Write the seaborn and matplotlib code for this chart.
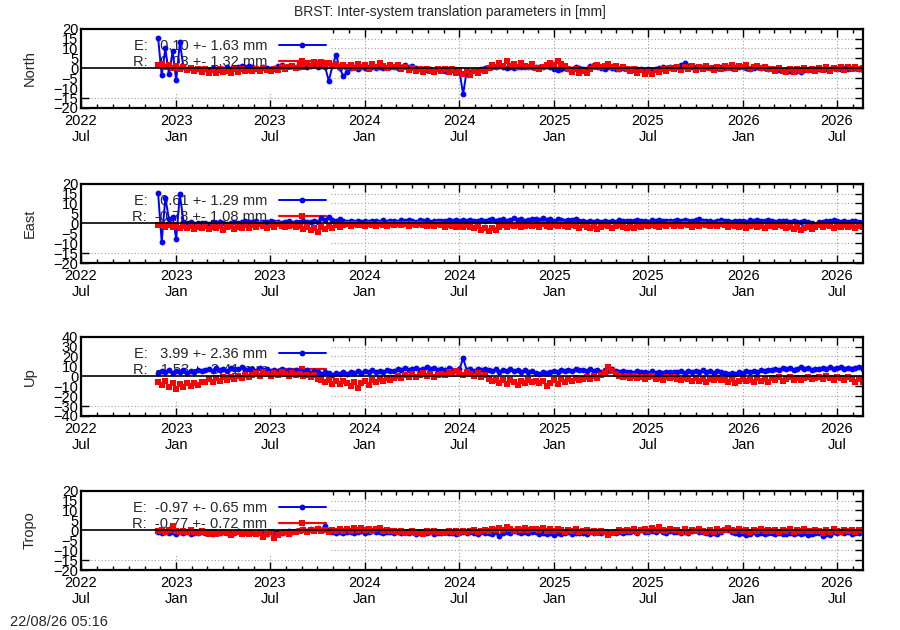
import matplotlib
matplotlib.use("Agg")
import matplotlib.pyplot as plt
import matplotlib.dates as mdates
from matplotlib.patches import Rectangle
import pandas as pd
import seaborn as sns

# weekly values (mm), first epoch 2022-11-27, last 2026-08-20
start_date = "2022-11-27"
end_date = "2026-08-20"

north_e = [
    15.5, -3.5, 10.0, -3.0, 8.5, -6.0, 13.0, 0.5, -0.5, 0.3, -0.8, -0.2, -0.6,
    -0.4, -0.8, 0.2, -0.6, -1.0, -0.3, 0.4, -0.5, 0.2, 0.8, 1.0, 0.6, 1.2,
    0.8, 0.3, -0.2, 0.5, 0.0, -0.5, 0.3, 1.2, 1.5, 0.8, 1.0, 1.4, 0.6,
    0.8, 1.2, 0.5, 1.0, 1.6, 0.9, 1.3, 0.7, -6.4, 1.0, 6.8, 0.2, -4.0,
    -2.0, 0.2, 0.6, -0.3, 0.4, 0.1, 0.5, 0.8, 0.2, 0.6, 0.3, 0.9, 0.4,
    0.5, 0.2, 0.8, 1.6, 0.6, 1.4, 0.3, -0.3, -0.5, -0.8, -0.4, -1.2, -0.6,
    -0.9, -1.3, -0.5, -1.0, -0.7, -1.5, -13.0, -1.2, -1.8, -0.8, -1.4, -0.3, 0.2,
    0.6, 0.8, 0.4, 1.0, 0.7, 0.3, 0.5, 0.2, 0.6, 0.9, 0.4, 0.8, 0.5,
    0.7, 0.9, 0.6, 1.2, 0.8, -0.4, -0.8, -0.3, 0.2, -0.5, -0.2, 0.4, 0.1,
    -0.6, -0.2, 1.2, 1.6, 0.8, 0.2, -0.3, 0.4, 0.1, -0.5, -0.2, 0.3, -0.4,
    -0.5, -0.8, -0.3, -0.6, -0.9, -0.4, -0.7, -0.2, 0.3, 0.5, 0.2, 0.6, 0.4,
    0.8, 1.5, 2.6, 1.2, 0.9, 0.6, 0.8, 0.4, 0.7, 0.3, 0.5, 0.2, 0.4,
    0.3, 0.6, 0.2, 0.5, 0.8, 0.4, 0.1, -0.2, 0.3, 0.6, 0.2, -0.1, -0.3,
    -0.6, -0.4, -0.8, -1.2, -0.9, -1.4, -1.6, -1.3, -1.8, -1.0, -0.7, -0.9, -0.5,
    -0.4, -0.2, -0.6, -0.3, 0.1, -0.5, -0.2, 0.2, -0.4, -0.1, 0.3, -0.6, -1.0,
]
north_r = [
    1.5, 2.0, 0.5, 1.8, 0.2, 1.2, -0.5, 0.8, -1.0, 0.3, -1.5, -0.2, -1.8,
    -0.5, -2.2, -0.8, -2.5, -0.3, -1.9, -1.2, -2.4, -0.6, -1.8, -0.4, -1.5, -0.9,
    -1.6, -0.3, -1.4, 0.2, -1.0, -1.6, -0.2, -0.9, 0.4, -0.5, 0.6, 1.2, 0.3,
    2.1, 0.8, 2.6, 1.2, 3.0, 1.5, 3.4, 1.9, 2.8, 1.0, 2.2, 0.6, 1.6,
    0.4, 1.8, 0.2, 2.4, 0.8, 1.5, -0.2, 2.0, 0.6, 2.6, 1.1, 0.3, 1.9,
    0.5, 1.6, -0.4, 0.8, -1.1, 0.2, -1.5, -0.3, -1.8, -0.6, -1.2, -2.0, -0.4,
    -1.4, -0.3, -1.8, -0.6, -2.2, -1.0, -2.8, -1.5, -3.2, -1.2, -2.4, -0.8, -1.6,
    0.2, 1.8, 0.9, 2.6, 1.3, 3.5, 1.1, 2.2, 0.6, 2.8, 1.4, 0.4, 2.0,
    0.3, -0.5, 0.8, 1.5, 2.8, 1.9, 3.6, 2.4, 1.0, -0.6, -1.8, -0.4, -2.2,
    -1.2, -2.6, -0.5, 0.8, 1.6, 0.4, 1.2, 2.0, 0.6, 1.4, -0.2, 0.9, -0.6,
    -1.5, -0.4, -2.2, -1.0, -2.8, -1.4, -3.0, -0.8, -1.9, -0.3, -1.2, 0.2, -0.6,
    0.4, -0.8, 0.9, -0.3, 1.2, -1.1, 0.5, -0.6, 1.0, 0.2, -0.9, 0.8, -0.2,
    1.2, 0.3, 1.8, -0.4, 1.0, 0.6, 1.6, -0.2, 0.8, 1.4, 0.1, 0.9, -0.5,
    -0.3, -1.6, 0.2, -1.2, -2.0, -0.6, -1.8, -0.4, -1.4, 0.1, -1.0, -0.2, -1.5,
    0.3, -0.8, 0.6, -1.2, 0.2, -0.5, 0.9, -0.9, 0.4, -0.3, 0.7, -0.6, 0.1,
]
east_e = [
    15.5, -9.5, 13.0, 2.0, 3.0, -7.8, 14.7, 0.8, 0.2, 0.6, -0.2, 0.4, 0.1,
    0.3, -0.2, 0.5, 0.0, 0.6, 0.2, -0.3, 0.4, 0.8, 0.3, 0.6, 1.0, 0.5,
    0.7, 1.2, 0.4, 0.9, 0.6, 1.3, 0.5, 0.8, 0.3, 0.7, 1.1, 0.4, 0.9,
    0.6, 1.0, 0.5, 0.8, 1.2, 0.7, 2.8, 1.5, 3.2, 1.8, 1.2, 2.4, 1.0,
    0.9, 1.3, 0.7, 1.1, 0.8, 1.4, 0.6, 1.0, 1.2, 0.8, 1.5, 0.9, 1.1,
    1.3, 0.8, 1.6, 1.0, 1.8, 1.2, 0.9, 1.5, 1.1, 1.7, 0.8, 1.3, 1.0,
    1.4, 1.1, 1.7, 1.3, 1.9, 1.2, 1.6, 1.0, 1.8, 1.4, 1.1, 1.6, 1.3,
    1.5, 2.0, 1.2, 1.8, 2.3, 1.4, 1.9, 2.5, 1.6, 2.1, 1.3, 1.8, 2.2,
    2.4, 1.6, 2.6, 1.9, 2.2, 1.4, 2.0, 1.7, 1.2, 1.8, 1.5, 2.1, 1.3,
    1.4, 0.8, 1.2, 0.6, 1.0, 0.5, 1.1, 0.7, 1.3, 0.9, 1.5, 1.0, 1.2,
    1.3, 1.0, 1.6, 1.2, 1.4, 0.9, 1.5, 1.1, 1.7, 1.3, 1.0, 1.4, 1.2,
    1.5, 1.2, 1.8, 1.4, 1.1, 1.6, 2.4, 1.3, 1.0, 1.4, 0.9, 1.2, 1.5,
    1.1, 1.3, 0.8, 1.2, 1.0, 1.4, 0.9, 1.5, 1.2, 1.8, 1.4, 1.1, 1.6,
    1.2, 0.9, 1.4, 1.0, 1.3, 0.8, 1.1, 0.6, 0.9, 1.2, 0.7, 0.4, -0.8,
    0.5, 0.9, 1.3, 1.0, 1.5, 1.1, 0.8, 1.2, 0.9, 1.4, 1.0, 0.7, 0.9,
]
east_r = [
    -1.0, -0.4, -1.6, -0.7, -1.9, -0.8, -2.2, -1.1, -2.5, -1.4, -2.8, -1.6, -2.3,
    -1.5, -3.0, -1.8, -2.6, -1.2, -3.2, -2.0, -1.4, -2.9, -1.7, -2.4, -1.0, -2.1,
    -0.8, -1.9, -0.5, -1.5, -2.2, -0.9, -1.7, -0.4, -1.3, -2.0, -1.1, -0.6, -1.6,
    -1.2, -2.8, -1.6, -3.6, -2.2, -4.2, -1.8, -3.0, -1.4, -2.4, -0.8, -1.9, -1.0,
    -0.4, -1.2, -0.2, -0.9, -0.6, -1.4, -0.3, -0.8, -1.1, -0.2, -0.7, -1.3, -0.5,
    -0.6, -0.2, -1.0, -0.4, -1.3, -0.5, -0.9, -0.1, -0.8, -1.5, -0.6, -1.1, -0.4,
    -1.0, -1.8, -0.7, -1.5, -2.0, -1.2, -1.6, -0.9, -1.8, -2.6, -1.5, -3.6, -2.2,
    -3.9, -2.4, -3.2, -1.6, -1.0, -1.8, -0.6, -1.4, -0.9, -2.0, -1.2, -0.7, -1.5,
    -0.8, -1.6, -0.5, -1.3, -2.0, -0.9, -1.5, -0.4, -1.1, -1.8, -0.6, -1.4, -2.1,
    -1.0, -1.8, -2.6, -1.4, -3.0, -1.6, -0.8, -1.5, -2.2, -1.1, -0.6, -1.7, -2.4,
    -1.8, -2.6, -1.2, -2.0, -0.9, -1.5, -0.6, -1.2, -1.9, -0.8, -1.4, -0.5, -1.1,
    -0.7, -1.3, -0.4, -1.0, -1.6, -0.6, -1.2, -0.3, -0.9, -1.5, -0.8, -1.1, -0.5,
    -1.0, -1.6, -0.7, -1.3, -2.0, -1.2, -2.6, -1.5, -0.9, -1.8, -1.1, -2.2, -1.4,
    -1.2, -1.8, -0.8, -1.5, -2.4, -1.6, -2.9, -2.0, -3.2, -2.4, -1.6, -2.8, -1.8,
    -1.0, -1.7, -0.6, -1.4, -2.1, -1.1, -1.6, -0.8, -1.9, -1.3, -2.2, -1.5, -1.8,
]
up_e = [
    3.0, 5.5, 4.2, 6.0, 3.8, 5.2, 4.6, 6.2, 3.5, 5.0, 4.4, 6.5, 5.0,
    6.0, 7.5, 5.8, 8.2, 6.6, 7.8, 5.4, 8.5, 6.9, 7.2, 9.0, 6.4, 7.6,
    7.0, 5.6, 8.0, 6.2, 7.4, 5.0, 6.8, 5.5, 7.2, 4.8, 6.0, 5.2, 6.6,
    5.8, 4.5, 6.0, 3.8, 5.2, 4.0, 2.5, 4.2, 3.0, 1.8, 3.6, 2.4, 4.0,
    2.8, 4.5, 3.2, 5.0, 3.8, 5.6, 4.2, 6.0, 4.6, 5.2, 3.9, 6.2, 5.0,
    5.8, 7.2, 6.4, 8.0, 6.0, 7.5, 8.6, 6.8, 7.8, 9.2, 7.0, 8.4, 6.6,
    7.4, 6.2, 8.0, 6.8, 5.6, 7.2, 18.0, 6.4, 7.6, 5.8, 7.0, 6.0, 7.8,
    6.5, 5.0, 7.2, 4.6, 6.8, 5.4, 7.6, 5.8, 6.2, 4.8, 6.6, 4.2, 5.5,
    3.4, 2.6, 4.0, 3.0, 4.8, 5.6, 4.4, 6.2, 5.0, 6.8, 5.4, 7.0, 6.0,
    6.4, 5.2, 7.0, 5.8, 6.6, 4.8, 6.0, 5.4, 7.2, 5.0, 4.6, 5.8, 4.4,
    4.8, 3.6, 5.2, 4.0, 4.6, 3.4, 5.0, 3.8, 4.4, 3.2, 4.8, 4.2, 3.9,
    4.6, 5.4, 3.8, 5.0, 4.2, 5.8, 4.4, 6.0, 4.8, 5.2, 3.6, 5.6, 4.0,
    3.0, 2.2, 3.6, 2.8, 4.2, 3.4, 5.0, 4.0, 5.6, 4.6, 6.0, 5.2, 6.4,
    6.8, 7.6, 6.2, 8.4, 7.0, 8.8, 6.6, 7.8, 9.0, 7.2, 8.2, 6.8, 7.5,
    7.4, 8.6, 7.0, 9.2, 7.8, 8.4, 9.8, 7.6, 8.8, 7.2, 8.0, 9.0, 7.8,
]
up_r = [
    -6.0, -8.5, -5.2, -10.4, -7.0, -12.8, -8.2, -11.2, -6.4, -9.6, -7.2, -8.8, -5.6,
    -6.0, -3.2, -5.4, -2.0, -4.6, -1.2, -3.6, -0.6, -2.8, 0.4, -1.8, 1.0, -0.8,
    1.5, 3.2, 0.6, 4.0, 2.2, 0.2, 3.6, 1.4, 4.4, 2.0, 0.8, 3.0, 1.6,
    2.4, 0.4, 1.8, -0.6, 1.0, -2.4, -4.0, -6.2, -3.4, -7.4, -5.0, -8.2, -4.4,
    -6.8, -9.4, -5.6, -11.6, -7.2, -4.4, -8.6, -3.6, -6.0, -2.8, -5.2, -1.6, -4.0,
    -2.0, 0.6, -1.4, 1.8, -0.4, 2.6, -1.0, 1.2, 3.0, 0.2, 2.2, -0.6, 1.6,
    2.8, 1.0, 4.2, 2.0, 5.4, 3.2, 1.6, 4.8, 2.4, 0.6, 3.6, -0.8, 1.4,
    -2.6, -5.0, -3.4, -6.8, -4.2, -7.6, -3.8, -6.0, -8.4, -4.6, -6.6, -3.6, -5.8,
    -4.4, -7.0, -5.2, -9.8, -6.4, -4.0, -7.4, -3.2, -5.6, -2.4, -4.8, -1.8, -3.6,
    -2.6, -0.8, -3.0, 0.4, -1.6, 1.8, 3.4, 9.0, 5.2, 2.6, 0.8, -1.2, 0.4,
    -1.4, 0.6, -2.2, -0.4, -3.0, -1.0, 0.2, -2.6, -1.6, -3.4, -0.8, -2.0, -1.2,
    -2.4, -4.0, -1.6, -3.2, -5.0, -2.0, -4.6, -3.0, -6.0, -2.8, -4.2, -1.8, -3.6,
    -4.0, -5.8, -3.0, -6.6, -4.4, -2.6, -5.2, -3.8, -6.2, -2.2, -4.6, -3.2, -5.4,
    -2.0, -3.8, -1.2, -4.6, -2.6, -0.8, -3.4, -1.6, -4.2, -2.2, -0.4, -3.0, -1.4,
    -1.0, -2.8, 0.4, -2.0, -3.6, -0.6, -1.8, -4.0, -1.2, -2.6, -5.6, -3.0, -6.2,
]
tropo_e = [
    -0.6, -1.2, -0.8, -1.5, -1.0, -1.6, -0.9, -1.3, -0.7, -1.8, -1.1, -1.4, -0.9,
    -1.3, -0.8, -1.6, -1.0, -1.2, -0.6, -1.4, -0.9, -1.1, -0.5, -1.3, -0.8, -1.0,
    -0.9, -1.4, -0.7, -1.2, -1.6, -1.0, -1.5, -0.8, -1.3, -0.6, -0.4, -0.9, -0.2,
    0.2, 0.6, -0.3, 0.8, 0.3, 1.0, 0.4, 2.4, 0.2, -0.6, -1.2, -0.8, -1.5,
    -1.0, -0.6, -1.3, -0.8, -0.5, -1.1, -0.7, -0.4, -0.9, -0.6, -1.2, -0.8, -1.0,
    -1.2, -0.8, -1.5, -1.0, -1.3, -0.7, -1.6, -1.1, -0.9, -1.4, -1.0, -1.7, -1.2,
    -1.3, -0.9, -1.5, -1.1, -1.8, -1.2, -1.0, -1.4, -0.8, -1.2, -1.6, -1.0, -1.4,
    -1.2, -1.6, -0.9, -2.8, -1.4, -0.7, -1.2, -0.4, -0.9, -1.3, -0.8, -1.1, -0.6,
    -1.0, -1.6, -1.3, -2.0, -1.5, -2.4, -1.2, -1.8, -1.4, -1.0, -1.7, -1.2, -1.5,
    -1.2, -1.6, -0.9, -1.3, -0.8, -1.1, -0.6, -1.0, -0.7, -1.2, -0.9, -1.4, -1.0,
    -0.8, -0.2, -1.1, 0.4, -0.6, -1.0, -0.5, -0.9, 0.2, -0.7, -1.2, -0.4, -0.8,
    -1.0, -1.4, -0.8, -1.2, -0.3, 0.2, -0.6, -1.0, -1.5, -2.0, -1.2, -1.6, -0.9,
    0.6, 0.3, -0.8, -1.2, -1.8, -1.4, -2.2, -1.6, -1.0, -1.9, -1.3, -2.0, -1.5,
    -1.2, -1.8, -1.4, -2.0, -1.6, -1.1, -1.7, -1.3, -1.9, -1.5, -2.4, -1.8, -1.2,
    -1.4, -2.8, -1.6, -2.2, -1.0, -1.5, -0.8, -1.3, -0.9, -1.6, -1.1, -1.4, -1.0,
]
tropo_r = [
    -0.2, 0.4, -0.8, 0.3, 2.0, -0.4, -1.0, -0.3, -0.9, 0.1, -0.6, -1.2, -0.5,
    -1.0, -1.6, -0.7, -1.9, -1.2, -0.6, -1.5, -2.2, -1.1, -0.8, -1.7, -1.3, -2.0,
    -1.2, -2.0, -1.4, -3.2, -1.8, -1.0, -3.8, -2.2, -1.4, -0.8, -1.6, -0.6, -1.0,
    -0.4, 0.2, -0.8, 0.4, -0.2, 0.6, -0.5, 0.1, -0.9, 0.3, -0.3, 0.5, -0.1,
    0.6, -0.2, 1.0, 0.3, 1.4, 0.0, 0.8, -0.4, 0.5, 1.2, -0.1, 0.4, -0.3,
    -0.5, -1.0, -0.3, -1.4, -0.7, -0.2, -1.2, -0.6, -1.6, -0.4, -0.9, -0.1, -0.8,
    -0.6, -1.1, -0.3, -0.9, -0.4, -1.3, -0.2, -0.8, -0.5, 0.1, -0.7, -0.3, 0.2,
    -0.2, 0.6, 0.2, 1.2, 0.4, 1.8, 0.6, -0.3, 0.8, 0.3, 1.4, 0.0, 0.5,
    0.9, 0.2, 1.3, -0.2, 0.6, -0.5, 0.8, 0.1, -0.8, 0.4, -0.3, 0.6, -0.6,
    -0.4, 0.2, -0.8, -0.1, -1.2, -0.5, -1.0, -2.6, -1.4, -0.6, 0.1, -0.3, 0.4,
    -0.2, 0.5, -0.6, 0.3, 0.8, -0.1, 1.0, 0.2, 1.6, 0.4, -0.3, 0.6, 0.0,
    0.3, -0.6, 0.5, -0.9, 0.1, -0.4, 0.8, -0.2, -1.0, 0.2, -0.7, 0.6, -0.3,
    0.4, 1.0, 0.2, -0.3, 0.6, -0.5, 0.3, -0.8, 0.1, -0.4, 0.5, -0.2, 0.2,
    -0.3, 0.4, -0.6, 0.2, -0.2, 0.5, -0.7, 0.1, -0.4, 0.6, -0.1, -0.5, 0.3,
    -0.4, -1.2, 0.2, -0.6, 0.5, -0.2, -0.9, 0.3, -0.5, 0.4, -0.8, 0.1, -0.3,
]

panel_names = ["North", "East", "Up", "Tropo"]
panel_e = [north_e, east_e, up_e, tropo_e]
panel_r = [north_r, east_r, up_r, tropo_r]
panel_ylim = [20, 20, 40, 20]
panel_ystep = [5, 5, 10, 5]
labels_e = ["E:   0.10 +- 1.63 mm", "E:   0.61 +- 1.29 mm", "E:   3.99 +- 2.36 mm", "E:  -0.97 +- 0.65 mm"]
labels_r = ["R:   0.03 +- 1.32 mm", "R:  -0.78 +- 1.08 mm", "R:  -1.53 +- 3.41 mm", "R:  -0.77 +- 0.72 mm"]
panel_bottom = [0.8286, 0.5825, 0.3397, 0.0952]

title = "BRST: Inter-system translation parameters in [mm]"
stamp = "22/08/26 05:16"

sns.set_style("ticks")
plt.rcParams["font.family"] = ["Liberation Sans", "DejaVu Sans"]
plt.rcParams["font.size"] = 10

fig = plt.figure(figsize=(9, 6.3), dpi=100)

for k, name in enumerate(panel_names):
    ax = fig.add_axes([0.09, panel_bottom[k], 0.869, 0.126])
    ax.set_axisbelow(True)
    de = pd.date_range(start_date, end_date, periods=len(panel_e[k]))
    dr = pd.date_range(start_date, end_date, periods=len(panel_r[k]))

    sns.lineplot(x=de, y=panel_e[k], ax=ax, color="#0000ff", linewidth=1.4,
                 marker="o", markersize=4.2, markeredgewidth=0, label=labels_e[k], zorder=2)
    sns.lineplot(x=dr, y=panel_r[k], ax=ax, color="#ff0000", linewidth=1.6,
                 marker="s", markersize=4.4, markeredgewidth=0, label=labels_r[k], zorder=2.1)
    ax.axhline(0, color="black", linewidth=1.2, zorder=3)

    # opaque key box like gnuplot
    ax.add_patch(Rectangle((0, 0.19), 0.318, 0.81, transform=ax.transAxes,
                           facecolor="white", edgecolor="none", zorder=1))

    lim = panel_ylim[k]
    ax.set_ylim(-lim, lim)
    ax.set_yticks(range(-lim, lim + 1, panel_ystep[k]))
    ax.set_xlim(pd.Timestamp("2022-07-01"), pd.Timestamp("2026-08-21"))
    ax.xaxis.set_major_locator(mdates.MonthLocator(bymonth=[1, 7]))
    ax.xaxis.set_minor_locator(mdates.MonthLocator())
    ax.xaxis.set_major_formatter(mdates.DateFormatter("%Y\n%b"))
    for t in ax.get_xticklabels():
        t.set_multialignment("center")

    ax.grid(True, which="major", color="#a0a0a0", linestyle=(0, (1, 2)), linewidth=0.8)
    ax.tick_params(which="both", direction="in", top=True, right=True, colors="black",
                   labelsize=10.5)
    ax.tick_params(which="major", length=6, width=1, pad=4)
    ax.tick_params(which="minor", length=3, width=1)
    ax.tick_params(axis="y", pad=2)
    for sp in ax.spines.values():
        sp.set_visible(True)
        sp.set_linewidth(1.6)
        sp.set_color("black")
    ax.set_ylabel(name, fontsize=10.5, labelpad=12)
    ax.set_xlabel("")

    leg = ax.legend(loc="upper right", bbox_to_anchor=(0.313, 0.87), frameon=False,
                    markerfirst=False, handlelength=3.2, handletextpad=0.8,
                    labelspacing=0.12, borderpad=0, borderaxespad=0, fontsize=10.5)
    leg.set_zorder(1.5)

fig.text(0.5, 0.981, title, ha="center", va="center", fontsize=10)
fig.text(0.011, 0.012, stamp, ha="left", va="center", fontsize=10.5)

fig.savefig("out.png", dpi=100)
